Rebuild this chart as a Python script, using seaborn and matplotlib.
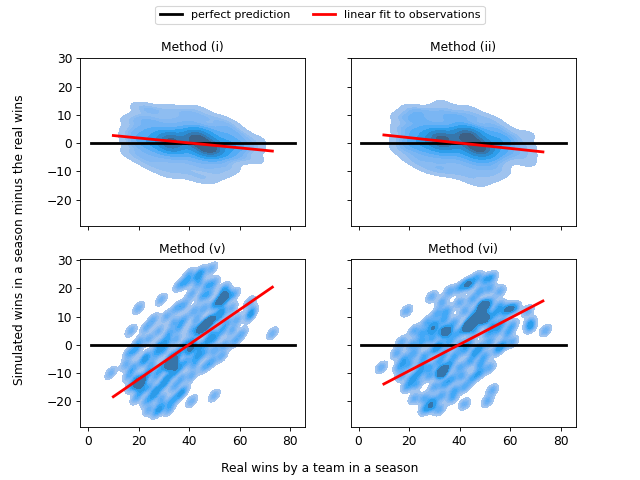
import numpy as np
import pandas as pd
import matplotlib
matplotlib.use("Agg")
import matplotlib.pyplot as plt
import seaborn as sns
from matplotlib.lines import Line2D

# ---------------- data ----------------
titles = ["Method (i)", "Method (ii)", "Method (v)", "Method (vi)"]

# (real wins, simulated - real) observations, per method
x_i = [16, 16, 16, 16,
       20, 20, 20, 20, 20, 20,
       24, 24, 24, 24, 24, 24, 24,
       28, 28, 28, 28, 28, 28, 28, 28,
       33, 33, 33, 33, 33, 33, 33, 33, 33, 33, 33, 33, 33, 33, 33, 33,
       38, 38, 38, 38, 38, 38, 38, 38, 38,
       43, 43, 43, 43, 43, 43, 43, 43, 43, 43, 43, 43, 43, 43, 43, 43, 43,
       48, 48, 48, 48, 48, 48, 48, 48, 48, 48, 48, 48, 48, 48, 48, 48,
       53, 53, 53, 53, 53, 53, 53, 53,
       57, 57, 57, 57, 57, 57,
       61, 61, 61, 61,
       67, 67, 67]
y_i = [-3, 1, 4, 8,
       -5, -1, 2, 5, 9, 13,
       -7, -3, 0, 2, 5, 8, 12,
       -9, -5, -2, 0, 2, 4, 7, 11,
       -11, -7, -4, -2, -2, -1, 0, 0, 1, 1, 2, 2, 3, 5, 8, 12,
       -10, -6, -3, -1, 1, 3, 5, 8, 11,
       -12, -8, -5, -3, -1, 0, 0, 1, 1, 2, 2, 3, 3, 4, 6, 9, 12,
       -13, -9, -6, -4, -3, -3, -2, -2, -2, -1, -1, 0, 1, 3, 5, 9,
       -11, -7, -4, -2, 0, 2, 5, 8,
       -9, -5, -2, 0, 3, 6,
       -5, -2, 0, 3,
       -6, -2, 1]

x_ii = [16, 16, 16, 16,
        20, 20, 20, 20, 20, 20,
        24, 24, 24, 24, 24, 24, 24,
        28, 28, 28, 28, 28, 28, 28, 28,
        33, 33, 33, 33, 33, 33, 33, 33, 33, 33, 33, 33, 33, 33, 33, 33, 33,
        38, 38, 38, 38, 38, 38, 38, 38, 38,
        43, 43, 43, 43, 43, 43, 43, 43, 43, 43, 43, 43, 43, 43, 43, 43, 43,
        48, 48, 48, 48, 48, 48, 48, 48, 48, 48, 48, 48, 48, 48, 48, 48,
        53, 53, 53, 53, 53, 53, 53, 53,
        57, 57, 57, 57, 57, 57,
        61, 61, 61,
        67, 67, 67, 67]
y_ii = [-2, 1, 5, 9,
        -5, -1, 2, 5, 9, 12,
        -7, -3, 0, 2, 5, 8, 11,
        -9, -5, -2, 0, 2, 4, 7, 11,
        -10, -7, -4, -2, -1, 0, 0, 1, 1, 2, 2, 3, 3, 5, 8, 11, 14,
        -10, -6, -3, -1, 1, 3, 5, 8, 10,
        -12, -8, -5, -3, -1, 0, 1, 1, 2, 2, 3, 3, 4, 4, 6, 9, 12,
        -14, -10, -7, -5, -3, -3, -2, -2, -2, -1, -1, 0, 1, 3, 5, 9,
        -12, -8, -5, -2, 0, 2, 5, 8,
        -10, -6, -3, 0, 2, 5,
        -4, -1, 2,
        -7, -4, -1, 3]

x_v = [40, 45, 49, 43,
       36, 39, 44, 47, 50, 54,
       29, 41, 45, 48, 52, 55, 58,
       20, 35, 38, 42, 46, 50, 53, 57, 64, 65,
       26, 31, 34, 38, 43, 47, 49, 52, 55, 59, 64,
       17, 23, 28, 32, 36, 41, 44, 46, 49, 53, 57, 61, 73,
       20, 24, 28, 31, 35, 38, 41, 44, 47, 50, 54, 58,
       16, 19, 23, 27, 30, 33, 36, 40, 43, 46, 50, 53,
       15, 18, 22, 25, 29, 32, 33, 36, 39, 42, 46, 49,
       9, 16, 19, 21, 24, 27, 31, 34, 37, 41,
       17, 20, 21, 24, 27, 30, 34, 38,
       19, 23, 26, 29, 33, 36, 41, 50,
       24, 27, 29, 32,
       21, 33, 45, 48, 53, 54, 41, 34]
y_v = [25, 26, 27, 24,
       21, 22, 22, 21, 22, 20,
       16, 18, 17, 18, 16, 17, 18,
       13, 13, 14, 12, 13, 14, 12, 13, 15, 12,
       9, 10, 8, 9, 9, 8, 9, 10, 8, 9, 10,
       5, 6, 5, 4, 6, 5, 5, 6, 4, 5, 5, 4, 4,
       1, 2, 0, 1, 2, 0, 1, -1, 1, 2, 0, 1,
       -3, -2, -4, -3, -2, -4, -3, -2, -4, -3, -2, -4,
       -7, -8, -6, -7, -8, -7, -6, -8, -6, -7, -8, -6,
       -10, -11, -12, -13, -10, -11, -12, -10, -12, -11,
       -15, -14, -16, -15, -16, -14, -15, -16,
       -19, -20, -18, -19, -20, -18, -20, -18,
       -23, -24, -22, -23,
       -13, -7, 6, 8, 15, 18, -1, -7]

x_vi = [43, 47, 50, 53,
        36, 40, 44, 48, 52, 56,
        29, 33, 40, 45, 49, 52, 56, 60,
        19, 31, 35, 42, 46, 50, 54, 58, 62, 67,
        27, 30, 34, 38, 44, 47, 50, 53, 57, 61, 68,
        22, 25, 29, 33, 35, 39, 43, 46, 51, 55, 59, 68, 74,
        17, 21, 25, 29, 32, 36, 40, 44, 48, 52, 57, 61,
        15, 18, 22, 26, 30, 34, 38, 42, 46, 50, 55,
        9, 16, 20, 25, 28, 32, 36, 40, 44, 48, 52,
        17, 21, 24, 28, 33, 33, 37, 41, 45, 48,
        19, 23, 30, 34, 38, 42, 53,
        22, 26, 29, 33, 37, 51,
        26, 29, 32, 42,
        45, 49, 50, 33, 43, 35]
y_vi = [22, 24, 23, 24,
        19, 20, 21, 19, 20, 19,
        17, 15, 15, 16, 14, 15, 14, 13,
        12, 11, 12, 12, 11, 12, 11, 12, 13, 12,
        8, 7, 9, 8, 8, 9, 9, 7, 8, 7, 8,
        5, 4, 5, 5, 4, 4, 6, 5, 4, 5, 4, 6, 5,
        1, 0, 1, 2, 0, 1, 0, 1, -1, 1, 0, 1,
        -3, -5, -3, -4, -2, -3, -4, -2, -3, -4, -2,
        -8, -8, -7, -7, -8, -6, -7, -8, -6, -7, -8,
        -11, -12, -10, -11, -10, -9, -12, -11, -12, -10,
        -15, -14, -15, -14, -16, -15, -16,
        -19, -19, -20, -18, -19, -20,
        -23, -22, -23, -21,
        8, 14, 9, -10, 6, 5]

xs = [x_i, x_ii, x_v, x_vi]
ys = [y_i, y_ii, y_v, y_vi]

# perfect prediction line and linear fits (end points)
perfect_x = [1, 82]
perfect_y = [0, 0]
fit_x = [10, 73]
fit_y = [[2.7, -2.8], [2.9, -3.1], [-18.4, 20.4], [-13.9, 15.5]]

bw = [0.62, 0.62, 0.28, 0.28]

# ---------------- figure ----------------
fig, axes = plt.subplots(2, 2, figsize=(8, 6), dpi=80, sharex=True, sharey=True)
for k, ax in enumerate(axes.flat):
    df = pd.DataFrame({"real": xs[k], "diff": ys[k]})
    sns.kdeplot(data=df, x="real", y="diff", fill=True, bw_adjust=bw[k], ax=ax)
    sns.lineplot(x=perfect_x, y=perfect_y, color="black", lw=2.5, ax=ax)
    sns.lineplot(x=fit_x, y=fit_y[k], color="red", lw=2.5, ax=ax)
    ax.set_title(titles[k], fontsize=11)
    ax.set_xlabel("")
    ax.set_ylabel("")
    ax.tick_params(labelsize=11)

axes[0, 0].set_xlim(-3.2, 86.1)
axes[0, 0].set_ylim(-29.2, 30.3)
axes[0, 0].set_xticks([0, 20, 40, 60, 80])
axes[0, 0].set_yticks([-20, -10, 0, 10, 20, 30])

handles = [Line2D([], [], color="black", lw=2.5), Line2D([], [], color="red", lw=2.5)]
fig.legend(handles, ["perfect prediction", "linear fit to observations"],
           loc="upper center", ncol=2)
fig.supxlabel("Real wins by a team in a season", fontsize=11)
fig.supylabel("Simulated wins in a season minus the real wins", fontsize=11)

fig.savefig("out.png", dpi=80)
